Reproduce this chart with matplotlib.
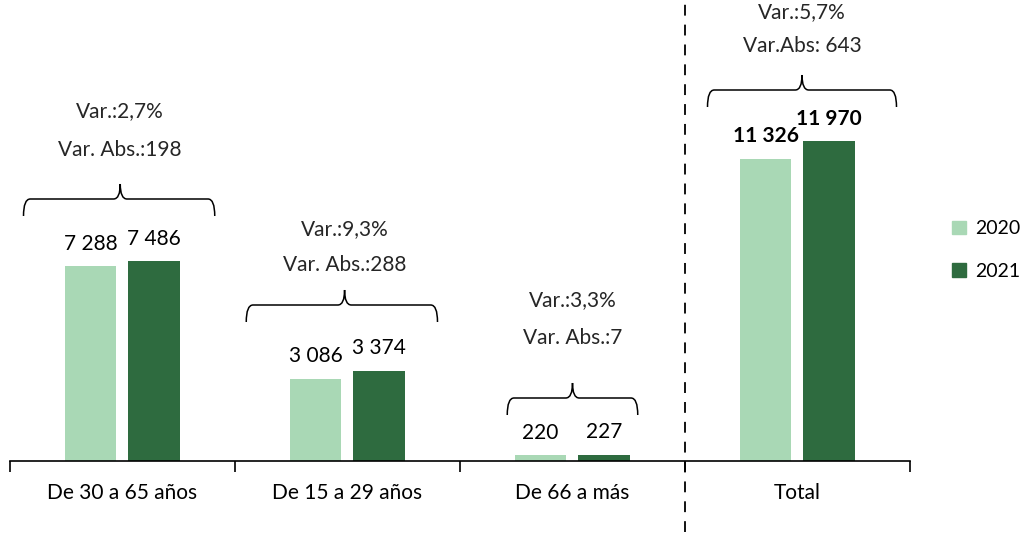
import matplotlib.pyplot as plt
from matplotlib.path import Path
from matplotlib.patches import PathPatch, Patch
import numpy as np

plt.rcParams['font.family'] = ['Lato', 'DejaVu Sans']

# data
categories = ['De 30 a 65 años', 'De 15 a 29 años', 'De 66 a más', 'Total']
v2020 = [7288, 3086, 220, 11326]
v2021 = [7486, 3374, 227, 11970]
var_pct = ['Var.:2,7%', 'Var.:9,3%', 'Var.:3,3%', 'Var.:5,7%']
var_abs = ['Var. Abs.:198', 'Var. Abs.:288', 'Var. Abs.:7', 'Var.Abs: 643']

c2020 = '#a9d8b5'
c2021 = '#2e6b3f'

# pixel scale helper (px per data unit)
ppu = 0.0267
ymax = 461 / ppu

fig = plt.figure(figsize=(10.25, 5.35), dpi=100)
ax = fig.add_axes([10 / 1025, 74 / 535, 900 / 1025, 461 / 535])
x = np.arange(len(categories))
w = 0.23
ax.bar(x - 0.142, v2020, w, color=c2020)
ax.bar(x + 0.14, v2021, w, color=c2021)

for i in range(len(categories)):
    bold = 'bold' if i == 3 else 'normal'
    ax.annotate(f'{v2020[i]:,}'.replace(',', ' '), (x[i] - 0.142, v2020[i]),
                xytext=(0, 9), textcoords='offset points', ha='center', va='bottom',
                fontsize=15, fontweight=bold)
    ax.annotate(f'{v2021[i]:,}'.replace(',', ' '), (x[i] + 0.14, v2021[i]),
                xytext=(0, 9), textcoords='offset points', ha='center', va='bottom',
                fontsize=15, fontweight=bold)

# braces: (left, right, line pixel y) per category
brace_l = [-0.44, -0.45, -0.29, -0.40]
brace_r = [0.41, 0.40, 0.29, 0.44]
brace_y = [199, 305, 398, 90]
txt1_y = [111, 229, 300, 12]
txt2_y = [150, 265, 338, 46]
spike_x = [-0.01, -0.013, 0.0, 0.02]

def py(p):
    return (461 - p) / ppu

for i in range(len(categories)):
    xl, xr = x[i] + brace_l[i], x[i] + brace_r[i]
    xc = x[i] + spike_x[i]
    yl = py(brace_y[i])
    ye = py(brace_y[i] + 17)
    ys = py(brace_y[i] - 15)
    r = 0.03
    verts = [(xl, ye), (xl, yl), (xl + r, yl),
             (xc - r, yl), (xc, yl), (xc, ys),
             (xc, yl), (xc + r, yl),
             (xr - r, yl), (xr, yl), (xr, ye)]
    codes = [Path.MOVETO, Path.CURVE3, Path.CURVE3,
             Path.LINETO, Path.CURVE3, Path.CURVE3,
             Path.CURVE3, Path.CURVE3,
             Path.LINETO, Path.CURVE3, Path.CURVE3]
    ax.add_patch(PathPatch(Path(verts, codes), fill=False, lw=1.1, color='black',
                           clip_on=False))
    ax.text(xc, py(txt1_y[i]), var_pct[i], ha='center', va='center', fontsize=15,
            color='#262626')
    ax.text(xc, py(txt2_y[i]), var_abs[i], ha='center', va='center', fontsize=15,
            color='#262626')

ax.plot([2.5, 2.5], [py(532), ymax], color='black', lw=1.3, ls=(0, (6, 5)),
        clip_on=False)

ax.set_xlim(-0.5, 3.5)
ax.set_ylim(0, ymax)
for s in ['top', 'right', 'left']:
    ax.spines[s].set_visible(False)
ax.spines['bottom'].set_linewidth(1.2)
ax.set_yticks([])
ax.set_xticks(np.arange(-0.5, 4, 1))
ax.set_xticklabels([])
ax.tick_params(axis='x', length=8, width=1.2, direction='out')
for i, c in enumerate(categories):
    ax.text(x[i], py(493), c, ha='center', va='center', fontsize=15, clip_on=False)

handles = [Patch(color=c2020, label='2020'), Patch(color=c2021, label='2021')]
fig.legend(handles=handles, loc='center left', bbox_to_anchor=(952 / 1025, 1 - 250 / 535),
           frameon=False, fontsize=14, handlelength=0.7, handleheight=0.7,
           handletextpad=0.5, labelspacing=1.3, borderpad=0, borderaxespad=0)

fig.savefig('out.png', dpi=100)
